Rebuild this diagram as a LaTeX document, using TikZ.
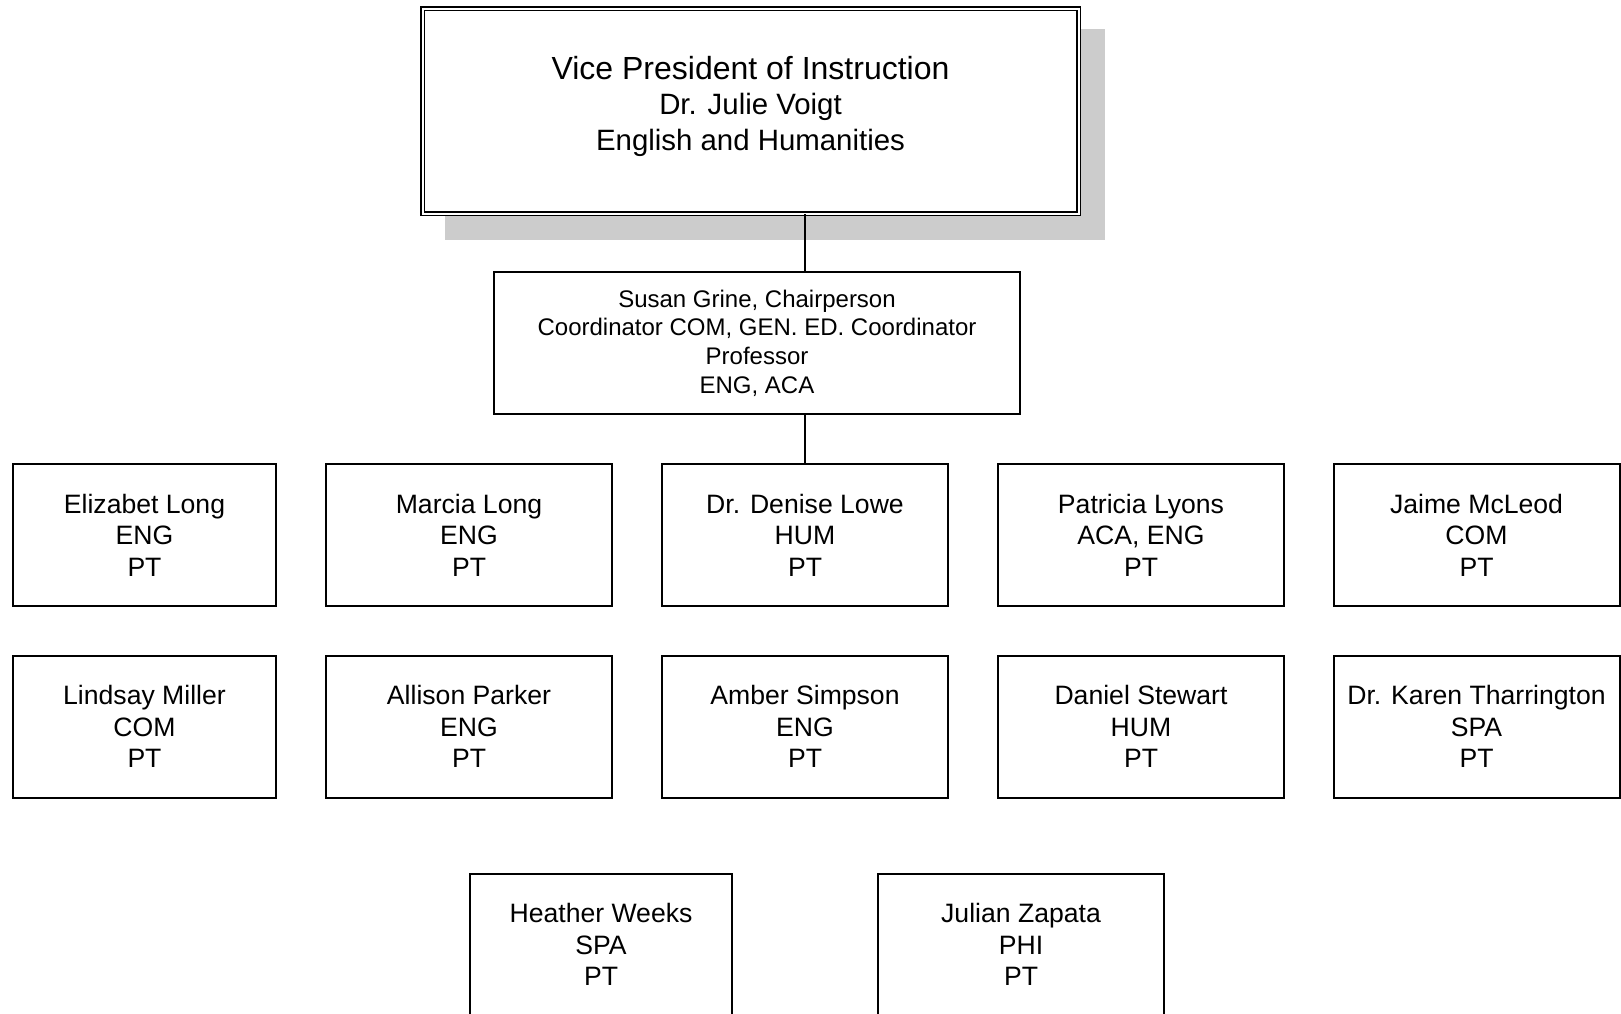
\documentclass[tikz,border=0pt]{standalone}
\usepackage{fontspec}
\setmainfont{Liberation Sans}
\begin{document}
\begin{tikzpicture}[x=0.5pt,y=-0.5pt,
    jefe/.style={draw,double,line width=0.7pt,double distance=1pt,fill=white,inner sep=0pt,
      minimum width=328pt,minimum height=102.5pt,align=center,font=\fontsize{14.7}{17.8}\selectfont},
    jefa/.style={draw,line width=1pt,fill=white,inner sep=0pt,
      minimum width=263pt,minimum height=71pt,align=center,font=\fontsize{12}{14.3}\selectfont},
    persona/.style={draw,line width=1pt,fill=white,inner sep=0pt,
      minimum width=143pt,minimum height=71pt,align=center,font=\fontsize{13.3}{15.8}\selectfont},
    angosta/.style={persona,minimum width=131.5pt},
    linea/.style={line width=1pt}]
    \useasboundingbox (0,0) rectangle (1621,1013);

    % Sombra del cuadro superior
    \fill[black!20] (445,29) rectangle (1105,240);

    % Vicepresidencia y jefatura
    \node[jefe] (vp) at (750.5,111) {{\fontsize{16}{17.8}\selectfont Vice President of Instruction}\\Dr. Julie Voigt\\English and Humanities\\[-10pt]\mbox{}};
    \node[jefa] (grine) at (757,343) {Susan Grine, Chairperson\\Coordinator COM, GEN. ED. Coordinator\\Professor\\ENG, ACA};

    % Primera fila
    \node[angosta] (elong) at (144.5,535) {Elizabet Long\\ENG\\PT};
    \node[persona] (mlong) at (469,535) {Marcia Long\\ENG\\PT};
    \node[persona] (lowe) at (805,535) {Dr. Denise Lowe\\HUM\\PT};
    \node[persona] (lyons) at (1141,535) {Patricia Lyons\\ACA, ENG\\PT};
    \node[persona] (mcleod) at (1476.5,535) {Jaime McLeod\\COM\\PT};

    % Segunda fila
    \node[angosta] (miller) at (144.5,726.5) {Lindsay Miller\\COM\\PT};
    \node[persona] (parker) at (469,726.5) {Allison Parker\\ENG\\PT};
    \node[persona] (simpson) at (805,726.5) {Amber Simpson\\ENG\\PT};
    \node[persona] (stewart) at (1141,726.5) {Daniel Stewart\\HUM\\PT};
    \node[persona] (tharrington) at (1476.5,726.5) {Dr. Karen Tharrington\\SPA\\PT};

    % Tercera fila
    \node[angosta,minimum width=131pt] (weeks) at (601,944.5) {Heather Weeks\\SPA\\PT};
    \node[persona] (zapata) at (1021,944.5) {Julian Zapata\\PHI\\PT};

    % Lineas
    \draw[linea] (vp.south -| lowe.north) -- (grine.north -| lowe.north);
    \draw[linea] (grine.south -| lowe.north) -- (lowe.north);
\end{tikzpicture}
\end{document}
